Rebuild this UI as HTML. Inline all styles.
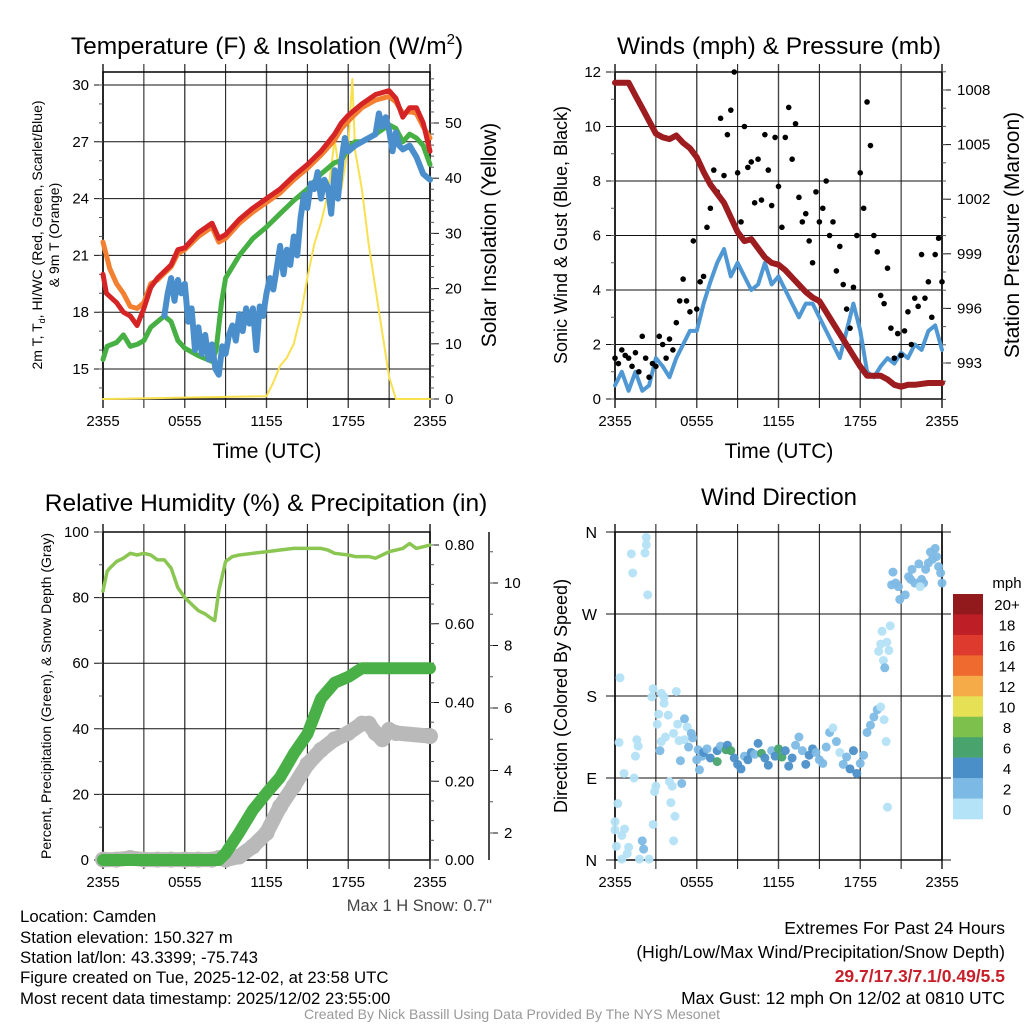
<!DOCTYPE html>
<html><head><meta charset="utf-8"><style>
html,body{margin:0;padding:0;background:#fff;}
svg{display:block;font-family:"Liberation Sans",sans-serif;}
</style></head><body>
<svg id="fig" width="1024" height="1024" viewBox="0 0 1024 1024" xmlns="http://www.w3.org/2000/svg">
<rect width="1024" height="1024" fill="#fff"/>
<text x="267" y="54" font-size="24.5" text-anchor="middle">Temperature (F) &amp; Insolation (W/m<tspan font-size="15" dy="-10">2</tspan><tspan dy="10">)</tspan></text>
<text x="779" y="54" font-size="24.5" text-anchor="middle">Winds (mph) &amp; Pressure (mb)</text>
<text x="266" y="511" font-size="24.5" text-anchor="middle">Relative Humidity (%) &amp; Precipitation (in)</text>
<text x="779" y="505" font-size="24" text-anchor="middle">Wind Direction</text>

<text transform="translate(42,235) rotate(-90)" font-size="14" text-anchor="middle">2m T, T<tspan font-size="9" dy="3">d</tspan><tspan dy="-3">, HI/WC (Red, Green, Scarlet/Blue)</tspan></text>
<text transform="translate(59,235) rotate(-90)" font-size="14" text-anchor="middle">&amp; 9m T (Orange)</text>
<text transform="translate(496,235) rotate(-90)" font-size="21" text-anchor="middle">Solar Insolation (Yellow)</text>
<text x="267" y="458" font-size="21" text-anchor="middle">Time (UTC)</text>
<text transform="translate(567,235) rotate(-90)" font-size="18" text-anchor="middle">Sonic Wind &amp; Gust (Blue, Black)</text>
<text transform="translate(1019,235) rotate(-90)" font-size="21" text-anchor="middle">Station Pressure (Maroon)</text>
<text x="779" y="458" font-size="21" text-anchor="middle">Time (UTC)</text>
<text transform="translate(51,696) rotate(-90)" font-size="14" text-anchor="middle">Percent, Precipitation (Green), &amp; Snow Depth (Gray)</text>
<text transform="translate(567,696) rotate(-90)" font-size="18" text-anchor="middle">Direction (Colored By Speed)</text>
<text x="492" y="911" font-size="16.5" fill="#444" text-anchor="end">Max 1 H Snow: 0.7"</text>

<g font-size="16.8">
<text x="20" y="922">Location: Camden</text>
<text x="20" y="943">Station elevation: 150.327 m</text>
<text x="20" y="963">Station lat/lon: 43.3399; -75.743</text>
<text x="20" y="983">Figure created on Tue, 2025-12-02, at 23:58 UTC</text>
<text x="20" y="1004">Most recent data timestamp: 2025/12/02 23:55:00</text>
</g>
<g font-size="17.5" text-anchor="end">
<text x="1005" y="934">Extremes For Past 24 Hours</text>
<text x="1005" y="958">(High/Low/Max Wind/Precipitation/Snow Depth)</text>
<text x="1005" y="982" fill="#c8202a" font-weight="bold">29.7/17.3/7.1/0.49/5.5</text>
<text x="1005" y="1004">Max Gust: 12 mph On 12/02 at 0810 UTC</text>
</g>
<text x="512" y="1019" font-size="14" fill="#999" text-anchor="middle">Created By Nick Bassill Using Data Provided By The NYS Mesonet</text>
</svg>
<script>
// ---------- data ----------
const tempT = [0,0.25,1,1.5,2,2.5,3,3.5,4,5,5.5,6,7,8,8.5,9,10,11,12,13,14,15,16,17,17.5,18,19,20,21,21.5,22,22.5,23,23.5,24];
const tempRed = [20.0,19.0,18.5,18.0,17.8,17.3,18.2,19.3,19.8,20.5,21.3,21.4,22.2,22.7,21.9,22.1,22.9,23.5,24.0,24.5,25.2,25.8,26.5,27.4,28.0,28.4,29.0,29.5,29.7,29.3,28.3,28.8,28.8,28.0,26.5];
const orangeT = [0,0.5,1,1.5,2,2.5,3,3.5,4,5,5.5,6,7,8,8.5,9,10,11,12,13,14,15,16,17,17.5,18,19,20,21,21.5,22,22.5,23,23.5,24];
const tempOrange = [21.7,20.3,19.5,19.0,18.3,18.2,18.5,19.5,19.7,20.4,21.1,21.3,22.0,22.5,21.7,21.9,22.7,23.3,23.8,24.3,25.0,25.6,26.3,27.1,27.7,28.1,28.8,29.2,29.4,29.1,28.5,28.6,28.5,27.8,27.2];
const dewT = [0,0.3,1,1.5,2,2.5,3,3.5,4,4.5,5,5.5,6,7,8,8.3,8.7,9,10,11,12,13,14,15,16,17,17.5,18,18.5,19,20,21,21.5,22,22.5,23,23.5,24];
const tempDew = [15.5,16.2,16.4,16.8,16.2,16.3,16.5,17.2,17.5,17.8,17.5,16.5,16.1,15.7,15.4,16.0,18.5,19.8,21.0,21.9,22.5,23.2,23.9,24.5,25.3,25.9,26.0,26.7,27.0,27.0,27.4,27.9,27.7,27.0,27.4,27.2,26.8,25.8];
const wcT = [4.5,4.75,5,5.25,5.5,5.75,6,6.25,6.5,6.75,7,7.25,7.5,7.75,8,8.25,8.5,8.75,9,9.25,9.5,9.75,10,10.25,10.5,10.75,11,11.25,11.5,11.75,12,12.25,12.5,12.75,13,13.25,13.5,13.75,14,14.25,14.5,14.75,15,15.25,15.5,15.75,16,16.25,16.5,16.75,17,17.25,17.5,17.75,18,18.5,19,19.5,20,20.25,20.5,20.75,21,21.25,21.5,21.75,22,22.5,23,23.5,24];
const tempWc = [17.8,19.0,19.8,18.6,19.7,19.0,19.5,17.5,18.2,16.0,17.2,15.8,16.8,15.5,16.3,15.0,14.7,16.2,15.8,16.8,17.3,16.5,17.9,17.0,18.2,17.4,18.2,16.0,18.3,17.8,19.0,19.8,19.2,20.3,21.5,20.0,21.3,20.5,22.0,21.0,23.0,24.2,23.5,24.8,24.5,25.4,24.0,25.0,24.6,23.2,25.5,24.0,26.0,27.2,26.5,26.8,27.0,27.2,27.4,28.5,27.8,28.3,27.6,26.5,27.5,26.8,26.6,26.8,26.2,25.3,25.0];
const solT = [0,12,12.5,13,13.5,14,14.5,15,15.5,16,16.5,17,17.3,17.5,18,18.3,18.5,19,19.5,20,20.5,21,21.5,24];
const solVal = [0,0.5,3,6,7.5,10,15,22,28,32,37,47,42,38,46,58,45,38,28,20,12,4,0,0];
const tempTicks = [15,18,21,24,27,30];
const solTicks = [0,10,20,30,40,50];
const timeLabels = ['2355','0555','1155','1755','2355'];

const windT = [0,0.5,1,1.5,2,2.5,3,3.5,4,4.5,5,5.5,6,6.5,7,7.5,8,8.5,9,9.5,10,10.5,11,11.5,12,12.5,13,13.5,14,14.5,15,15.5,16,16.5,17,17.5,18,18.5,19,19.5,20,20.5,21,21.5,22,22.5,23,23.5,24];
const windVal = [0.5,1.0,0.3,1.0,0.3,0.5,1.5,1.2,0.8,1.5,2.0,2.5,2.5,3.5,4.3,5.0,5.5,4.5,5.0,4.5,4.0,4.2,5.0,4.2,4.5,4.0,3.5,3.0,3.5,3.5,3.0,2.5,2.0,1.5,2.5,3.5,2.5,1.0,0.8,1.2,1.5,1.3,1.7,1.5,2.0,1.8,2.5,2.7,1.8];
const gustVal = [1.5,1.3,1.8,1.6,1.5,1.2,1.7,1.0,2.3,1.5,0.8,1.3,1.2,2.3,2.0,1.5,2.2,1.8,2.8,3.6,4.4,3.6,3.2,5.8,3.3,4.3,4.5,6.3,7.0,8.4,7.6,10.3,8.2,9.7,10.6,12.0,8.3,6.5,10.0,8.5,8.7,7.2,8.8,7.3,9.7,8.4,7.1,9.6,7.8,6.3,9.6,10.7,8.8,10.1,7.4,6.5,6.8,5.8,5.0,7.6,6.5,7.0,8.0,6.0,6.5,4.7,5.6,4.2,3.3,2.6,4.1,6.0,8.3,7.0,10.9,9.3,6.0,5.4,3.8,3.5,4.8,2.6,1.5,2.4,1.6,2.5,3.2,2.0,3.7,3.4,5.3,3.7,4.3,3.0,5.3,5.9,4.3];
const presT = [0,1,1.5,2,2.5,3,3.5,4,4.5,5,5.5,6,6.5,7,7.5,8,8.5,9,9.5,10,10.5,11,11.5,12,12.5,13,13.5,14,14.5,15,15.5,16,16.5,17,17.5,18,18.5,19,19.5,20,20.5,21,21.5,22,23,24];
const presVal = [1008.4,1008.4,1007.7,1007.0,1006.3,1005.6,1005.4,1005.3,1005.5,1005.1,1004.8,1004.3,1003.5,1002.8,1002.3,1001.8,1001.0,1000.2,999.7,999.8,999.3,998.8,998.5,998.4,998.1,997.7,997.3,996.9,996.6,996.4,995.8,995.2,994.6,994.0,993.4,992.8,992.3,992.3,992.3,992.1,991.8,991.7,991.8,991.8,991.9,991.9];
const windTicks = [0,2,4,6,8,10,12];
const presTicks = [993,996,999,1002,1005,1008];

const rhT = [0,0.3,0.5,1,1.5,2,2.5,3,3.5,4,4.5,5,5.5,6,6.5,7,7.5,8,8.2,8.5,9,9.5,10,11,12,13,14,15,16,16.5,17,18,18.5,19,19.5,20,20.5,21,22,22.5,23,24];
const rhVal = [82,88,89,91,92,93.5,93,93.5,93,91.5,91.5,89,83,80,78,76,75,73.5,73,82,91,92.5,93,93.5,94,94.5,95,95,95,94.5,93.5,93,92.5,92.5,92.5,92,93,94,95,96.5,95,96];
const precT = [0,8.5,9,10,11,12,13,14,15,16,17,18,19,20,21,22,23,24];
const precVal = [0,0,0.017,0.07,0.127,0.17,0.21,0.27,0.32,0.41,0.45,0.465,0.487,0.487,0.487,0.487,0.487,0.487];
const snowT = [0,1,2,3,4,5,6,7,8,8.5,9,10,11,12,13,14,15,16,17,18,19,19.5,20,20.5,21,21.5,24];
const snowVal = [1.15,1.15,1.2,1.15,1.15,1.15,1.15,1.15,1.15,1.2,1.15,1.25,1.57,2.0,2.85,3.5,4.2,4.66,5.0,5.2,5.5,5.5,5.2,5.0,5.3,5.2,5.1];
const rhTicks = [0,20,40,60,80,100];
const precTicks = [0.00,0.20,0.40,0.60,0.80];
const snowTicks = [2,4,6,8,10];

const dirT = [0.37,0.3,0.2,0,0,0.7,0.5,0.1,1,0.9,0.5,0.66,1.2,1.3,2.2,2.3,2.3,2.4,1.4,1.6,1.7,1.5,2.0,2.1,1.8,2.5,2.7,2.8,3.0,2.9,2.8,3.2,3.1,3.4,3.3,3.4,3.6,3.6,3.7,3.9,4.0,4.2,4.1,4.4,4.3,4.3,4.5,4.6,4.7,4.8,4.9,5.1,5.1,5.3,5.4,5.6,5.7,6.0,6.1,6.2,6.4,
6.5,6.75,7,7.5,7.5,7.75,8.15,8.25,8.5,8.75,9,9.25,9.5,9.75,10,10.25,10.5,10.75,11,11.25,11.5,11.75,12,12.25,12.5,12.75,13,13.25,13.5,13.75,14,14.25,14.5,14.75,15,15.25,15.5,15.75,16,16.25,16.5,16.75,17,17.25,17.5,17.75,18,18.25,18.5,18.75,19,19.25,19.5,19.75,20,19.9,
19.35,19.5,19.6,19.7,19.8,19.95,20.1,20.2,20.3,20.4,20.6,20.8,20.9,21.3,21.55,21.8,22,22.3,22.5,22.8,23,23.15,23.3,23.5,23.6,23.75,23.9,24,22.65,22.4,21.7];
const dirDeg = [200,129,62,42,33,34,27,15,14,7,1,95,336,315,337,346,354,291,90,132,125,114,21,12,1,1,179,188,81,75,39,160,149,130,120,183,179,172,135,159,86,81,63,48,21,139,185,149,131,109,84,132,155,146,124,139,134,110,121,99,114,
118,122,112,108,120,125,121,126,120,112,105,100,114,110,118,116,128,117,112,104,120,114,122,113,120,103,112,126,135,120,105,115,122,118,110,106,124,140,145,130,118,105,113,100,120,95,106,115,140,148,157,165,168,154,58,130,
229,237,251,219,211,239,230,257,302,316,304,300,286,291,311,319,304,325,308,319,326,338,330,342,333,322,315,304,304,300,308];
const dirSpd = [0,0,0,0,0,0,0,0,0,0,0,0,0,0,0,0,0,0,0,0,0,0,3,3,0,0,0,0,0,0,0,0,0,0,3,0,1,0,0,0,0,0,0,0,0,0,0,0,0,3,3,1,3,1,2,2,2,3,2,2,3,
4,3,4,6,4,3,6,4,6,4,4,4,3,4,4,3,4,6,4,4,3,4,6,6,4,4,4,3,3,3,4,4,4,3,3,3,3,2,1,2,1,3,3,4,4,4,2,2,3,2,3,2,1,1,1,1,
1,1,1,1,3,1,1,1,2,3,2,2,3,2,2,2,2,2,2,2,2,2,2,2,2,2,2,2,2,1,2];
const dirLabels = ['N','E','S','W','N'];
const speedBins = ['0','2','4','6','8','10','12','14','16','18','20+'];
const speedColors = ['#b4e2f6','#7db9e5','#4b8fc8','#48a46c','#7dc04b','#e6e055','#f5ab48','#ee6a2e','#de3a2e','#be1f27','#921a1d'];

// ---------- helpers ----------
const NS='http://www.w3.org/2000/svg';
const svg=document.getElementById('fig');
function mk(tag,attrs,parent){const e=document.createElementNS(NS,tag);for(const k in attrs)e.setAttribute(k,attrs[k]);(parent||svg).appendChild(e);return e;}
function xScale(p){return t=>p.x0+t/24*(p.x1-p.x0);}
function lin(d0,d1,r0,r1){return v=>r0+(v-d0)/(d1-d0)*(r1-r0);}
function pathD(ts,vs,xs,ys){let d='';for(let i=0;i<ts.length;i++){if(vs[i]==null)continue;d+=(d?'L':'M')+xs(ts[i]).toFixed(1)+','+ys(vs[i]).toFixed(1);}return d;}

function frame(p,name){
  const g=mk('g',{});
  
  
  const xs=xScale(p);
  for(let h=0;h<=24;h+=3){
    const x=xs(h);
    const l=mk('line',{x1:x,x2:x,y1:p.y0-8,y2:p.y1+9,stroke:(h%6==0&&h>0&&h<24)?'#444':'#111','stroke-width':h%6==0?1.4:1},g);
    
    
  }
  timeLabels.forEach((s,i)=>{
    const t=mk('text',{x:xs(i*6),y:p.y1+27,'font-size':15,'text-anchor':'middle'},g);
    t.textContent=s;
    
    
  });
  const r=mk('rect',{x:p.x0,y:p.y0,width:p.x1-p.x0,height:p.y1-p.y0,fill:'none',stroke:'#000','stroke-width':1.5},g);
  
  
  return g;
}
function leftAxis(p,ticks,ys,minor,fmt,name,gridOn){
  const g=mk('g',{});
  
  
  ticks.forEach(v=>{
    const y=ys(v);
    if(gridOn){const l=mk('line',{x1:p.x0-9,x2:p.x1,y1:y,y2:y,stroke:'#111','stroke-width':1},g);
    
    }
    const t=mk('text',{x:p.x0-14,y:y+5,'font-size':15,'text-anchor':'end'},g);
    t.textContent=fmt(v);
    
    
  });
  minor.forEach(v=>{const y=ys(v);if(y<p.y0-1||y>p.y1+1)return;
    const l=mk('line',{x1:p.x0-4,x2:p.x0,y1:y,y2:y,stroke:'#555'},g);
    
    });
}
function rightAxis(x,p,ticks,ys,minor,fmt,name){
  const g=mk('g',{});
  
  
  ticks.forEach(v=>{
    const y=ys(v);
    const l=mk('line',{x1:x,x2:x+9,y1:y,y2:y,stroke:'#111'},g);
    
    
    const t=mk('text',{x:x+15,y:y+5,'font-size':15},g);
    t.textContent=fmt(v);
    
    
  });
  minor.forEach(v=>{const y=ys(v);if(y<p.y0-1||y>p.y1+1)return;
    const l=mk('line',{x1:x,x2:x+4,y1:y,y2:y,stroke:'#555'},g);
    
    });
}
function range(a,b,s){const r=[];for(let v=a;v<=b+1e-9;v+=s)r.push(+v.toFixed(3));return r;}
function line(d,color,w,name){
  const e=mk('path',{d:d,fill:'none',stroke:color,'stroke-width':w,'stroke-linejoin':'round','stroke-linecap':'round'});
  
  
  return e;
}

// ---------- panel 1 ----------
const P1={x0:103,x1:430,y0:72,y1:399};
const x1s=xScale(P1);
const tY=lin(15,30,369,85);
const sY=lin(0,50,399,123);
frame(P1,'temperature');
leftAxis(P1,tempTicks,tY,range(14,30,1),v=>v,'temperature-left-axis',true);
rightAxis(P1.x1,P1,solTicks,sY,range(0,58,2),v=>v,'insolation-right-axis');
line(pathD(solT,solVal,x1s,sY),'#f8e04e',2,'insolation-line');
line(pathD(dewT,tempDew,x1s,tY),'#47b044',5,'dewpoint-line');
line(pathD(wcT,tempWc,x1s,tY),'#4a8fcb',6,'windchill-line');
line(pathD(orangeT,tempOrange,x1s,tY),'#f37f30',5,'temp-9m-line');
line(pathD(tempT,tempRed,x1s,tY),'#d42426',5,'temp-2m-line');

// ---------- panel 2 ----------
const P2={x0:615,x1:942,y0:72,y1:399};
const x2s=xScale(P2);
const wY=lin(0,12,399,72);
const pY=lin(993,1008,363,90);
frame(P2,'winds');
leftAxis(P2,windTicks,wY,range(0,12,1),v=>v,'wind-left-axis',true);
rightAxis(P2.x1,P2,presTicks,pY,range(991,1009,1),v=>v,'pressure-right-axis');
line(pathD(windT,windVal,x2s,wY),'#4f98d3',4,'sonic-wind-line');
gustVal.forEach((v,i)=>{
  const c=mk('circle',{cx:x2s(i*0.25),cy:wY(v),r:2.8,fill:'#000'});
  
  
});
line(pathD(presT,presVal,x2s,pY),'#9c1c1f',6,'pressure-line');

// ---------- panel 3 ----------
const P3={x0:103,x1:430,y0:532,y1:860};
const x3s=xScale(P3);
const rY=lin(0,100,860,532);
const prY=lin(0,0.8,860,545);
const snY=lin(2,10,833,583);
frame(P3,'humidity');
leftAxis(P3,rhTicks,rY,range(0,100,10),v=>v,'humidity-left-axis',true);
rightAxis(P3.x1,P3,precTicks,prY,range(0,0.85,0.05),v=>v.toFixed(2),'precip-right-axis');
{const ax=mk('line',{x1:489,x2:489,y1:532,y2:860,stroke:'#111','stroke-width':1.5});

}
rightAxis(489,{y0:532,y1:860},snowTicks,snY,range(2,11,1),v=>v,'snow-axis');
snowT.forEach((t,i)=>{
  const c=mk('circle',{cx:x3s(t),cy:snY(snowVal[i]),r:8,fill:'#b9b9b9'});
  
  
});
line(pathD(snowT,snowVal,x3s,snY),'#b9b9b9',15,'snow-depth-line');
line(pathD(precT,precVal,x3s,prY),'#48b046',12,'precip-line');
line(pathD(rhT,rhVal,x3s,rY),'#8bc653',3.5,'rh-line');

// ---------- panel 4 ----------
const P4={x0:615,x1:942,y0:532,y1:860};
const x4s=xScale(P4);
const dY=lin(0,360,860,532);
frame(P4,'direction');
{const g=mk('g',{});


dirLabels.forEach((s,i)=>{
  const y=dY(i*90);
  const l=mk('line',{x1:P4.x0-9,x2:P4.x1+9,y1:y,y2:y,stroke:'#111'},g);
  
  
  const t=mk('text',{x:597,y:y+6,'font-size':16,'text-anchor':'end'},g);
  t.textContent=s;
  
  
});}
dirT.forEach((t,i)=>{
  const b=Math.min(10,Math.floor(dirSpd[i]/2));
  const c=mk('circle',{cx:x4s(t),cy:dY(dirDeg[i]),r:4.5,fill:speedColors[b],'fill-opacity':0.95});
  
  
});
// colorbar
{const g=mk('g',{});


const t0=mk('text',{x:1007,y:588,'font-size':15,'text-anchor':'middle'},g);
t0.textContent='mph';


const bh=(819-594)/11;
speedBins.forEach((s,i)=>{
  const k=10-i; const y=594+i*bh;
  const r=mk('rect',{x:953,y:y,width:30,height:bh+0.3,fill:speedColors[k]},g);
  
  
  const t=mk('text',{x:1007,y:y+bh/2+6,'font-size':15,'text-anchor':'middle'},g);
  t.textContent=speedBins[k];
  
  
});}
</script>
</body></html>
